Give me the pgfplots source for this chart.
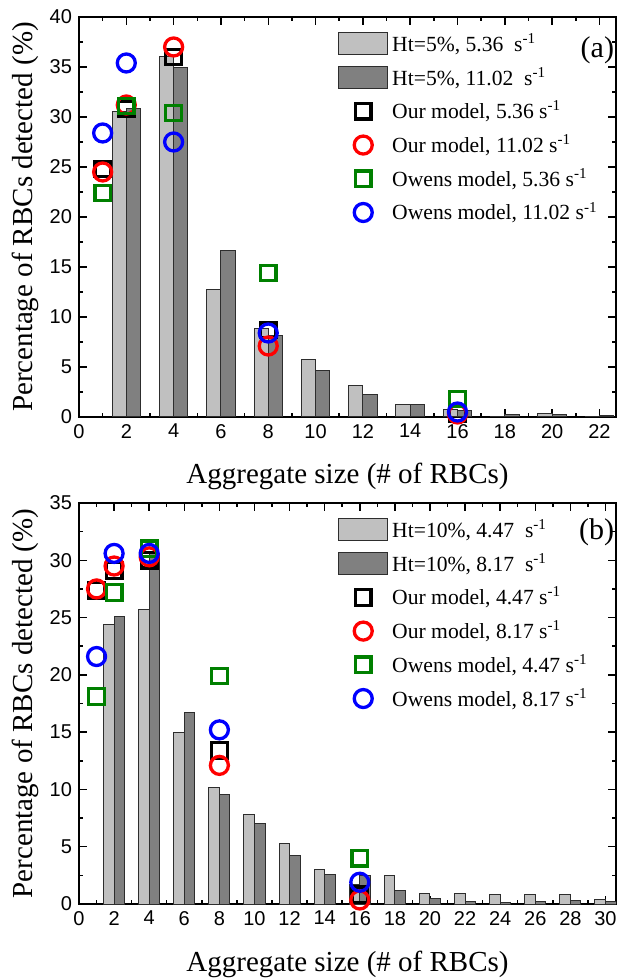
\documentclass[border=0pt]{standalone}
\usepackage{fontspec}
\setmainfont{Liberation Serif}
\newfontfamily\arialfont{Liberation Sans}
\usepackage{pgfplots}
\pgfplotsset{compat=1.18}

\definecolor{lightbar}{RGB}{192,192,192}
\definecolor{darkbar}{RGB}{128,128,128}
\definecolor{baredge}{RGB}{45,45,45}
\definecolor{owgreen}{RGB}{0,128,0}

\pgfplotsset{
  panel/.style={
    scale only axis, width=268.5pt,
    xmin=0, ymin=0,
    axis line style={line width=0.75pt},
    tick align=inside,
    major tick length=4pt, minor tick length=2pt,
    every tick/.style={black, line width=0.75pt},
    minor x tick num=1, minor y tick num=1,
    ticklabel style={font=\arialfont\fontsize{10}{12}\selectfont},
    /pgf/number format/assume math mode=true,
    every axis x label/.style={at={(axis description cs:0.5,0)}, anchor=base,
      yshift=-33.5pt, font=\fontsize{14.5}{17}\selectfont},
    every axis y label/.style={at={(axis description cs:-0.0857,0.5)}, rotate=90,
      anchor=base, font=\fontsize{14.5}{17}\selectfont},
    legend cell align=left,
    legend style={draw=none, fill=none, anchor=north west,
      font=\fontsize{10.8}{13}\selectfont, row sep=2.4pt, inner sep=0pt},
    legend image code/.code={\draw[mark repeat=2,mark phase=2,##1]
      plot coordinates {(0pt,0pt) (12.25pt,0pt) (24.5pt,0pt)};},
    xlabel={Aggregate size (\# of RBCs)},
    ylabel={Percentage of RBCs detected (\%)},
  },
  bars/.style={ybar, bar width=0.6, draw=baredge, line width=0.5pt,
    legend image code/.code={\draw[##1] (0pt,-5.5pt) rectangle (24.5pt,5.5pt);}},
  sq/.style={only marks, mark=square, mark size=3.9pt, line width=1.65pt,
    mark options={solid, line width=1.65pt}, color=#1},
  ci/.style={only marks, mark=o, mark size=4.5pt, line width=1.65pt,
    mark options={solid, line width=1.65pt}, color=#1},
}

\begin{document}
\begin{tikzpicture}
\useasboundingbox (-39.5pt,-37.5pt) rectangle (272pt,452pt);

% (a) Ht = 5%
\begin{axis}[panel, at={(0,243.5pt)}, anchor=south west, height=200pt,
    xmax=22.7, ymax=40, xtick={0,2,...,22}, ytick={0,5,...,40},
    legend style={at={(rel axis cs:0.482,0.97)}}]
\addplot[bars, bar shift=-0.3, fill=lightbar] coordinates {
  (2,30.5) (4,36.0) (6,12.7) (8,8.8) (10,5.7) (12,3.1) (14,1.2)
  (16,0.7) (18,0.05) (20,0.3) (22,0.05)};
\addplot[bars, bar shift=0.3, fill=darkbar] coordinates {
  (2,30.8) (4,34.9) (6,16.6) (8,8.1) (10,4.6) (12,2.2) (14,1.2)
  (16,0.6) (18,0.2) (20,0.2) (22,0.15)};
\addplot[sq=black] coordinates {(1,24.8) (2,30.8) (4,36.0) (8,8.7) (16,0.3)};
\addplot[ci=red] coordinates {(1,24.5) (2,31.2) (4,37.0) (8,7.1) (16,0.3)};
\addplot[sq=owgreen] coordinates {(1,22.4) (2,31.1) (4,30.4) (8,14.4) (16,1.8)};
\addplot[ci=blue] coordinates {(1,28.4) (2,35.4) (4,27.5) (8,8.4) (16,0.5)};
\legend{Ht=5\%{,} 5.36\ \ s\textsuperscript{-1}, Ht=5\%{,} 11.02\ \ s\textsuperscript{-1},
  Our model{,} 5.36 s\textsuperscript{-1}, Our model{,} 11.02 s\textsuperscript{-1},
  Owens model{,} 5.36 s\textsuperscript{-1}, Owens model{,} 11.02 s\textsuperscript{-1}}
\node[anchor=east, inner sep=0pt, font=\fontsize{15}{18}\selectfont]
  at (rel axis cs:0.997,0.918) {(a)};
\end{axis}

% (b) Ht = 10%
\begin{axis}[panel, at={(0,0)}, anchor=south west, height=200.5pt,
    xmax=30.6, ymax=35, xtick={0,2,...,30}, ytick={0,5,...,35},
    legend style={at={(rel axis cs:0.482,0.97)}}]
\addplot[bars, bar shift=-0.3, fill=lightbar] coordinates {
  (2,24.4) (4,25.7) (6,14.95) (8,10.2) (10,7.8) (12,5.3) (14,3.0)
  (16,1.7) (18,2.5) (20,0.9) (22,0.9) (24,0.85) (26,0.85) (28,0.8) (30,0.35)};
\addplot[bars, bar shift=0.3, fill=darkbar] coordinates {
  (2,25.1) (4,30.6) (6,16.7) (8,9.6) (10,7.0) (12,4.2) (14,2.6)
  (16,2.5) (18,1.2) (20,0.5) (22,0.2) (24,0.1) (26,0.2) (28,0.3) (30,0.2)};
\addplot[sq=black] coordinates {(1,27.4) (2,29.1) (4,30.0) (8,13.4) (16,0.8)};
\addplot[ci=red] coordinates {(1,27.5) (2,29.5) (4,30.3) (8,12.1) (16,0.35)};
\addplot[sq=owgreen] coordinates {(1,18.1) (2,27.2) (4,31.0) (8,19.9) (16,4.0)};
\addplot[ci=blue] coordinates {(1,21.6) (2,30.6) (4,30.6) (8,15.2) (16,1.9)};
\legend{Ht=10\%{,} 4.47\ \ s\textsuperscript{-1}, Ht=10\%{,} 8.17\ \ s\textsuperscript{-1},
  Our model{,} 4.47 s\textsuperscript{-1}, Our model{,} 8.17 s\textsuperscript{-1},
  Owens model{,} 4.47 s\textsuperscript{-1}, Owens model{,} 8.17 s\textsuperscript{-1}}
\node[anchor=east, inner sep=0pt, font=\fontsize{15}{18}\selectfont]
  at (rel axis cs:0.997,0.928) {(b)};
\end{axis}
\end{tikzpicture}
\end{document}
